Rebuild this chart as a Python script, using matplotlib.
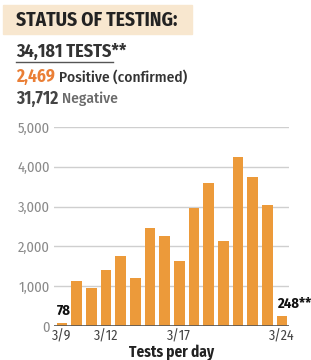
import matplotlib
matplotlib.use("Agg")
import matplotlib.pyplot as plt
from matplotlib.patches import Rectangle

plt.rcParams['font.family'] = ['Fira Sans Condensed', 'Roboto', 'DejaVu Sans']

dates = ["3/9", "3/10", "3/11", "3/12", "3/13", "3/14", "3/15", "3/16",
         "3/17", "3/18", "3/19", "3/20", "3/21", "3/22", "3/23", "3/24"]
tests = [78, 1120, 950, 1400, 1760, 1200, 2450, 2260,
         1630, 2970, 3590, 2130, 4240, 3740, 3040, 248]
shown_ticks = ["3/9", "3/12", "3/17", "3/24"]
yticks = [0, 1000, 2000, 3000, 4000, 5000]
ytick_labels = ["0", "1,000", "2,000", "3,000", "4,000", "5,000"]

ORANGE = "#ec9a3a"
W, H = 311, 360
fig = plt.figure(figsize=(W / 100, H / 100), dpi=100)
renderer = fig.canvas.get_renderer()


def after(txt, gap_px):
    bb = txt.get_window_extent(renderer)
    return (bb.x1 + gap_px) / W


# header band
fig.patches.append(Rectangle((3 / W, 1 - 34 / H), 189 / W, 29 / H,
                             transform=fig.transFigure, color="#f8e7cf", zorder=0))
fig.text(16 / W, 1 - 20.5 / H, "STATUS OF TESTING:", fontsize=14, fontweight="bold",
         color="#222222", va="center", ha="left")
fig.text(16 / W, 1 - 51.5 / H, "34,181 TESTS**", fontsize=13, fontweight="bold",
         color="#333333", va="center", ha="left")
fig.add_artist(plt.Line2D([16 / W, 113 / W], [1 - 61.5 / H, 1 - 61.5 / H],
                          transform=fig.transFigure, color="#555555", lw=1))
p = fig.text(16 / W, 1 - 77 / H, "2,469", fontsize=12.5, fontweight="bold",
             color="#ea7f36", va="center", ha="left")
fig.text(after(p, 4), 1 - 77 / H, "Positive (confirmed)", fontsize=11,
         color="#333333", va="center", ha="left", fontweight="medium")
n = fig.text(16 / W, 1 - 99 / H, "31,712", fontsize=12.5, fontweight="bold",
             color="#444444", va="center", ha="left")
fig.text(after(n, 4), 1 - 99 / H, "Negative", fontsize=11,
         color="#6a6a6a", va="center", ha="left", fontweight="medium")

ax = fig.add_axes([54 / W, 34 / H, 235 / W, 199 / H])
x = list(range(len(dates)))
ax.bar(x, tests, width=0.72, color=ORANGE, zorder=2)
ax.set_xlim(-0.55, 15.48)
ax.set_ylim(0, 5000)
for s in ax.spines.values():
    s.set_visible(False)
ax.set_yticks(yticks)
ax.set_yticklabels(ytick_labels, color="#8a8a8a", fontsize=10.5)
ax.tick_params(axis="y", length=0, pad=3)
ax.yaxis.grid(True, color="#cfcfcf", lw=1, zorder=0)
ax.set_axisbelow(True)
ax.axhline(0, color="#555555", lw=1.2, zorder=3)
ax.set_xticks([dates.index(d) for d in shown_ticks])
ax.set_xticklabels(shown_ticks, color="#444444", fontsize=10)
ax.tick_params(axis="x", length=0, pad=2)
ax.set_xlabel("Tests per day", fontsize=11, fontweight="bold", color="#222222", labelpad=1)

ax.text(x[0] - 0.35, tests[0] + 120, f"{tests[0]:,}", fontsize=10.5, fontweight="bold",
        color="#111111", ha="left", va="bottom", clip_on=False)
ax.text(x[-1] - 0.35, tests[-1] + 120, f"{tests[-1]:,}**", fontsize=10.5, fontweight="bold",
        color="#111111", ha="left", va="bottom", clip_on=False)

fig.savefig("out.png", dpi=100)
